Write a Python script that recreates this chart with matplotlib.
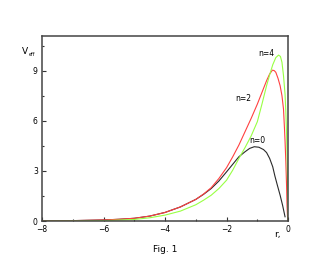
import numpy as np
import matplotlib
matplotlib.use('Agg')
import matplotlib.pyplot as plt
from matplotlib.ticker import MultipleLocator

# values
r_n0 = [-8, -7, -6, -5.5, -5, -4.5, -4, -3.5, -3, -2.75, -2.5, -2.25, -2.0, -1.8, -1.6, -1.4, -1.25, -1.1,
        -0.95, -0.8, -0.7, -0.6, -0.5, -0.43, -0.35, -0.26, -0.18, -0.1]
v_n0 = [0.01, 0.03, 0.07, 0.11, 0.17, 0.3, 0.52, 0.85, 1.3, 1.6, 1.95, 2.4, 2.95, 3.4, 3.85, 4.15, 4.35, 4.45,
        4.42, 4.28, 4.1, 3.75, 3.25, 2.7, 2.15, 1.55, 0.95, 0.26]

r_n2 = [-8, -7, -6, -5.5, -5, -4.5, -4, -3.5, -3, -2.75, -2.5, -2.25, -2.0, -1.8, -1.6, -1.4, -1.2, -1.0,
        -0.85, -0.7, -0.6, -0.51, -0.45, -0.4, -0.33, -0.26, -0.2, -0.15, -0.12, -0.1, -0.075, -0.05,
        -0.035, -0.02, 0.0]
v_n2 = [0.01, 0.03, 0.07, 0.11, 0.17, 0.3, 0.52, 0.85, 1.3, 1.62, 2.0, 2.55, 3.2, 3.85, 4.55, 5.35, 6.15, 7.0,
        7.7, 8.4, 8.8, 9.03, 9.0, 8.9, 8.55, 8.1, 7.5, 6.7, 5.6, 4.8, 3.6, 2.1,
        0.9, 0.3, 0.0]

r_n4 = [-8, -7, -6, -5, -4.5, -4, -3.5, -3, -2.75, -2.5, -2.25, -2.0, -1.8, -1.6, -1.4, -1.2, -1.0,
        -0.85, -0.7, -0.6, -0.5, -0.4, -0.31, -0.25, -0.2, -0.15, -0.1, -0.075, -0.05, -0.03, -0.015, 0.0]
v_n4 = [0.0, 0.01, 0.03, 0.1, 0.2, 0.36, 0.6, 0.98, 1.25, 1.55, 1.95, 2.45, 3.05, 3.75, 4.4, 5.1, 5.95,
        7.0, 8.1, 8.75, 9.35, 9.78, 9.93, 9.85, 9.5, 8.7, 7.6, 6.6, 5.2, 3.6, 1.8, 0.0]

fig = plt.figure(figsize=(3.23, 2.73), dpi=100)
ax = fig.add_axes([0.130, 0.190, 0.762, 0.678])

ax.plot(r_n0, v_n0, color='#2a2a2a', lw=0.8)
ax.plot(r_n2, v_n2, color='#ff4040', lw=0.8)
ax.plot(r_n4, v_n4, color='#99ff44', lw=0.8)

ax.set_xlim(-8, 0)
ax.set_ylim(0, 11.07)
ax.xaxis.set_major_locator(MultipleLocator(2))
ax.xaxis.set_minor_locator(MultipleLocator(1))
ax.yaxis.set_major_locator(MultipleLocator(3))
ax.yaxis.set_minor_locator(MultipleLocator(1.5))
ax.tick_params(which='both', direction='in', labelsize=5.5, color='#333333', width=0.8)
ax.tick_params(which='major', length=3, pad=3)
ax.tick_params(which='minor', length=1.5)
for s in ax.spines.values():
    s.set_linewidth(1.1)
    s.set_color('#444444')

ax.text(-0.7, 10.0, 'n=4', fontsize=5.5, ha='center', va='center')
ax.text(-1.45, 7.35, 'n=2', fontsize=5.5, ha='center', va='center')
ax.text(-1.0, 4.85, 'n=0', fontsize=5.5, ha='center', va='center')

fig.text(22 / 323, 1 - 51 / 273, 'V', fontsize=6.5, ha='left', va='center')
fig.text(29 / 323, 1 - 54 / 273, 'eff', fontsize=3.5, ha='left', va='center')
fig.text(277 / 323, 1 - 235 / 273, 'r,', fontsize=6.5, ha='center', va='center')
fig.text(165 / 323, 1 - 249 / 273, 'Fig. 1', fontsize=6.5, ha='center', va='center')

fig.savefig('out.png', dpi=100)
